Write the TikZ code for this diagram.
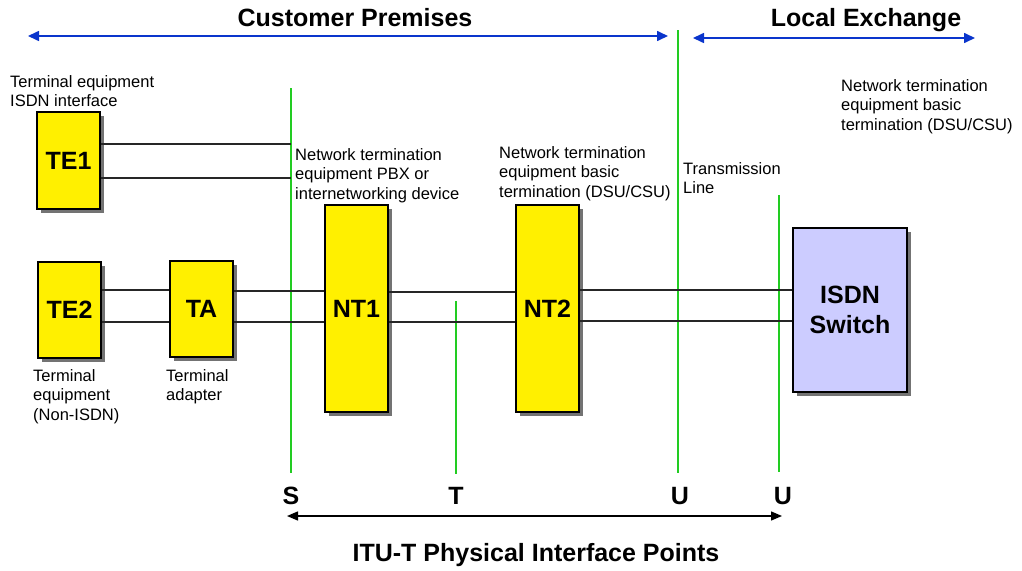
\documentclass[tikz,border=0pt]{standalone}
\usepackage{fontspec}
\setmainfont{Liberation Sans}
\usetikzlibrary{arrows.meta,shadows,calc}
\definecolor{boxyellow}{HTML}{FFF000}
\definecolor{swblue}{HTML}{CCCCFF}
\definecolor{arrblue}{HTML}{0A35CC}
\definecolor{ifgreen}{HTML}{22CC22}
\begin{document}
\begin{tikzpicture}[x=1pt,y=-1pt,
  devbox/.style={draw=black, line width=1.1pt, fill=boxyellow, inner sep=0pt,
    font=\fontsize{25}{30}\selectfont\bfseries, align=center,
    drop shadow={shadow xshift=4pt, shadow yshift=-4pt, fill=black!55, opacity=1}},
  swbox/.style={devbox, fill=swblue},
  lbl/.style={anchor=north west, inner sep=0pt, align=left, font=\fontsize{16.5}{19.5}\selectfont},
  big/.style={anchor=base, inner sep=0pt, font=\fontsize{25}{30}\selectfont\bfseries},
  wire/.style={draw=black!85, line width=1.4pt},
  ifline/.style={draw=ifgreen, line width=1.2pt},
  bluearr/.style={draw=arrblue, line width=1.6pt, {Triangle[length=11pt,width=10pt]}-{Triangle[length=11pt,width=10pt]}},
  blackarr/.style={draw=black, line width=1.4pt, {Triangle[length=11pt,width=9pt]}-{Triangle[length=11pt,width=9pt]}}
]
\path[use as bounding box] (0,0) rectangle (1022,570);

% top headings and arrows
\node[big] (cp) at (355,27) {Customer Premises};
\node[big] (le) at (866,27) {Local Exchange};
\coordinate (cpL) at (28,36);
\coordinate (cpR) at (668,36);
\coordinate (leL) at (693,38);
\coordinate (leR) at (975,38);
\draw[bluearr] (cpL) -- (cpR);
\draw[bluearr] (leL) -- (leR);

% interface lines
\coordinate (Stop) at (291,88);   \coordinate (Sbot) at (291,473);
\coordinate (Ttop) at (456,301);  \coordinate (Tbot) at (456,474);
\coordinate (U1top) at (678,30);  \coordinate (U1bot) at (678,473);
\coordinate (U2top) at (779,195); \coordinate (U2bot) at (779,472);
\draw[ifline] (Stop) -- (Sbot);
\draw[ifline] (Ttop) -- (Tbot);
\draw[ifline] (U1top) -- (U1bot);
\draw[ifline] (U2top) -- (U2bot);

% boxes
\node[devbox, minimum width=63pt, minimum height=97pt] (TE1) at (68.5,160.5) {TE1};
\node[devbox, minimum width=63pt, minimum height=96pt] (TE2) at (69.5,310) {TE2};
\node[devbox, minimum width=63pt, minimum height=96pt] (TA) at (201.5,309) {TA};
\node[devbox, minimum width=63pt, minimum height=207pt] (NT1) at (356.5,308.5) {NT1};
\node[devbox, minimum width=63pt, minimum height=207pt] (NT2) at (547.5,308.5) {NT2};
\node[swbox, minimum width=114pt, minimum height=164pt] (SW) at (850,310) {ISDN\\Switch};

% wires
\draw[wire] (TE1.east |- 0,144) -- (Stop |- 0,144);
\draw[wire] (TE1.east |- 0,178) -- (Stop |- 0,178);
\draw[wire] (TE2.east |- 0,290) -- (TA.west |- 0,290);
\draw[wire] (TE2.east |- 0,322) -- (TA.west |- 0,322);
\draw[wire] (TA.east |- 0,291) -- (NT1.west |- 0,291);
\draw[wire] (TA.east |- 0,322) -- (NT1.west |- 0,322);
\draw[wire] (NT1.east |- 0,292) -- (NT2.west |- 0,292);
\draw[wire] (NT1.east |- 0,322) -- (NT2.west |- 0,322);
\draw[wire] (NT2.east |- 0,290) -- (SW.west |- 0,290);
\draw[wire] (NT2.east |- 0,321) -- (SW.west |- 0,321);

% small labels
\node[lbl] (l1) at (10,75) {Terminal equipment\\ISDN interface};
\node[lbl] (l2) at (33,369) {Terminal\\equipment\\(Non-ISDN)};
\node[lbl] (l3) at (166,369) {Terminal\\adapter};
\node[lbl] (l4) at (295,148) {Network termination\\equipment PBX or\\internetworking device};
\node[lbl] (l5) at (499,146) {Network termination\\equipment basic\\termination (DSU/CSU)};
\node[lbl] (l6) at (683,162) {Transmission\\Line};
\node[lbl] (l7) at (841,79) {Network termination\\equipment basic\\termination (DSU/CSU)};

% interface point labels
\node[big] (pS) at (291,504) {S};
\node[big] (pT) at (456,504) {T};
\node[big] (pU1) at (680,504) {U};
\node[big] (pU2) at (783,504) {U};
\coordinate (bL) at (287,516);
\coordinate (bR) at (782,516);
\draw[blackarr] (bL) -- (bR);
\node[big] (itu) at (536,561) {ITU-T Physical Interface Points};
\end{tikzpicture}
\end{document}
